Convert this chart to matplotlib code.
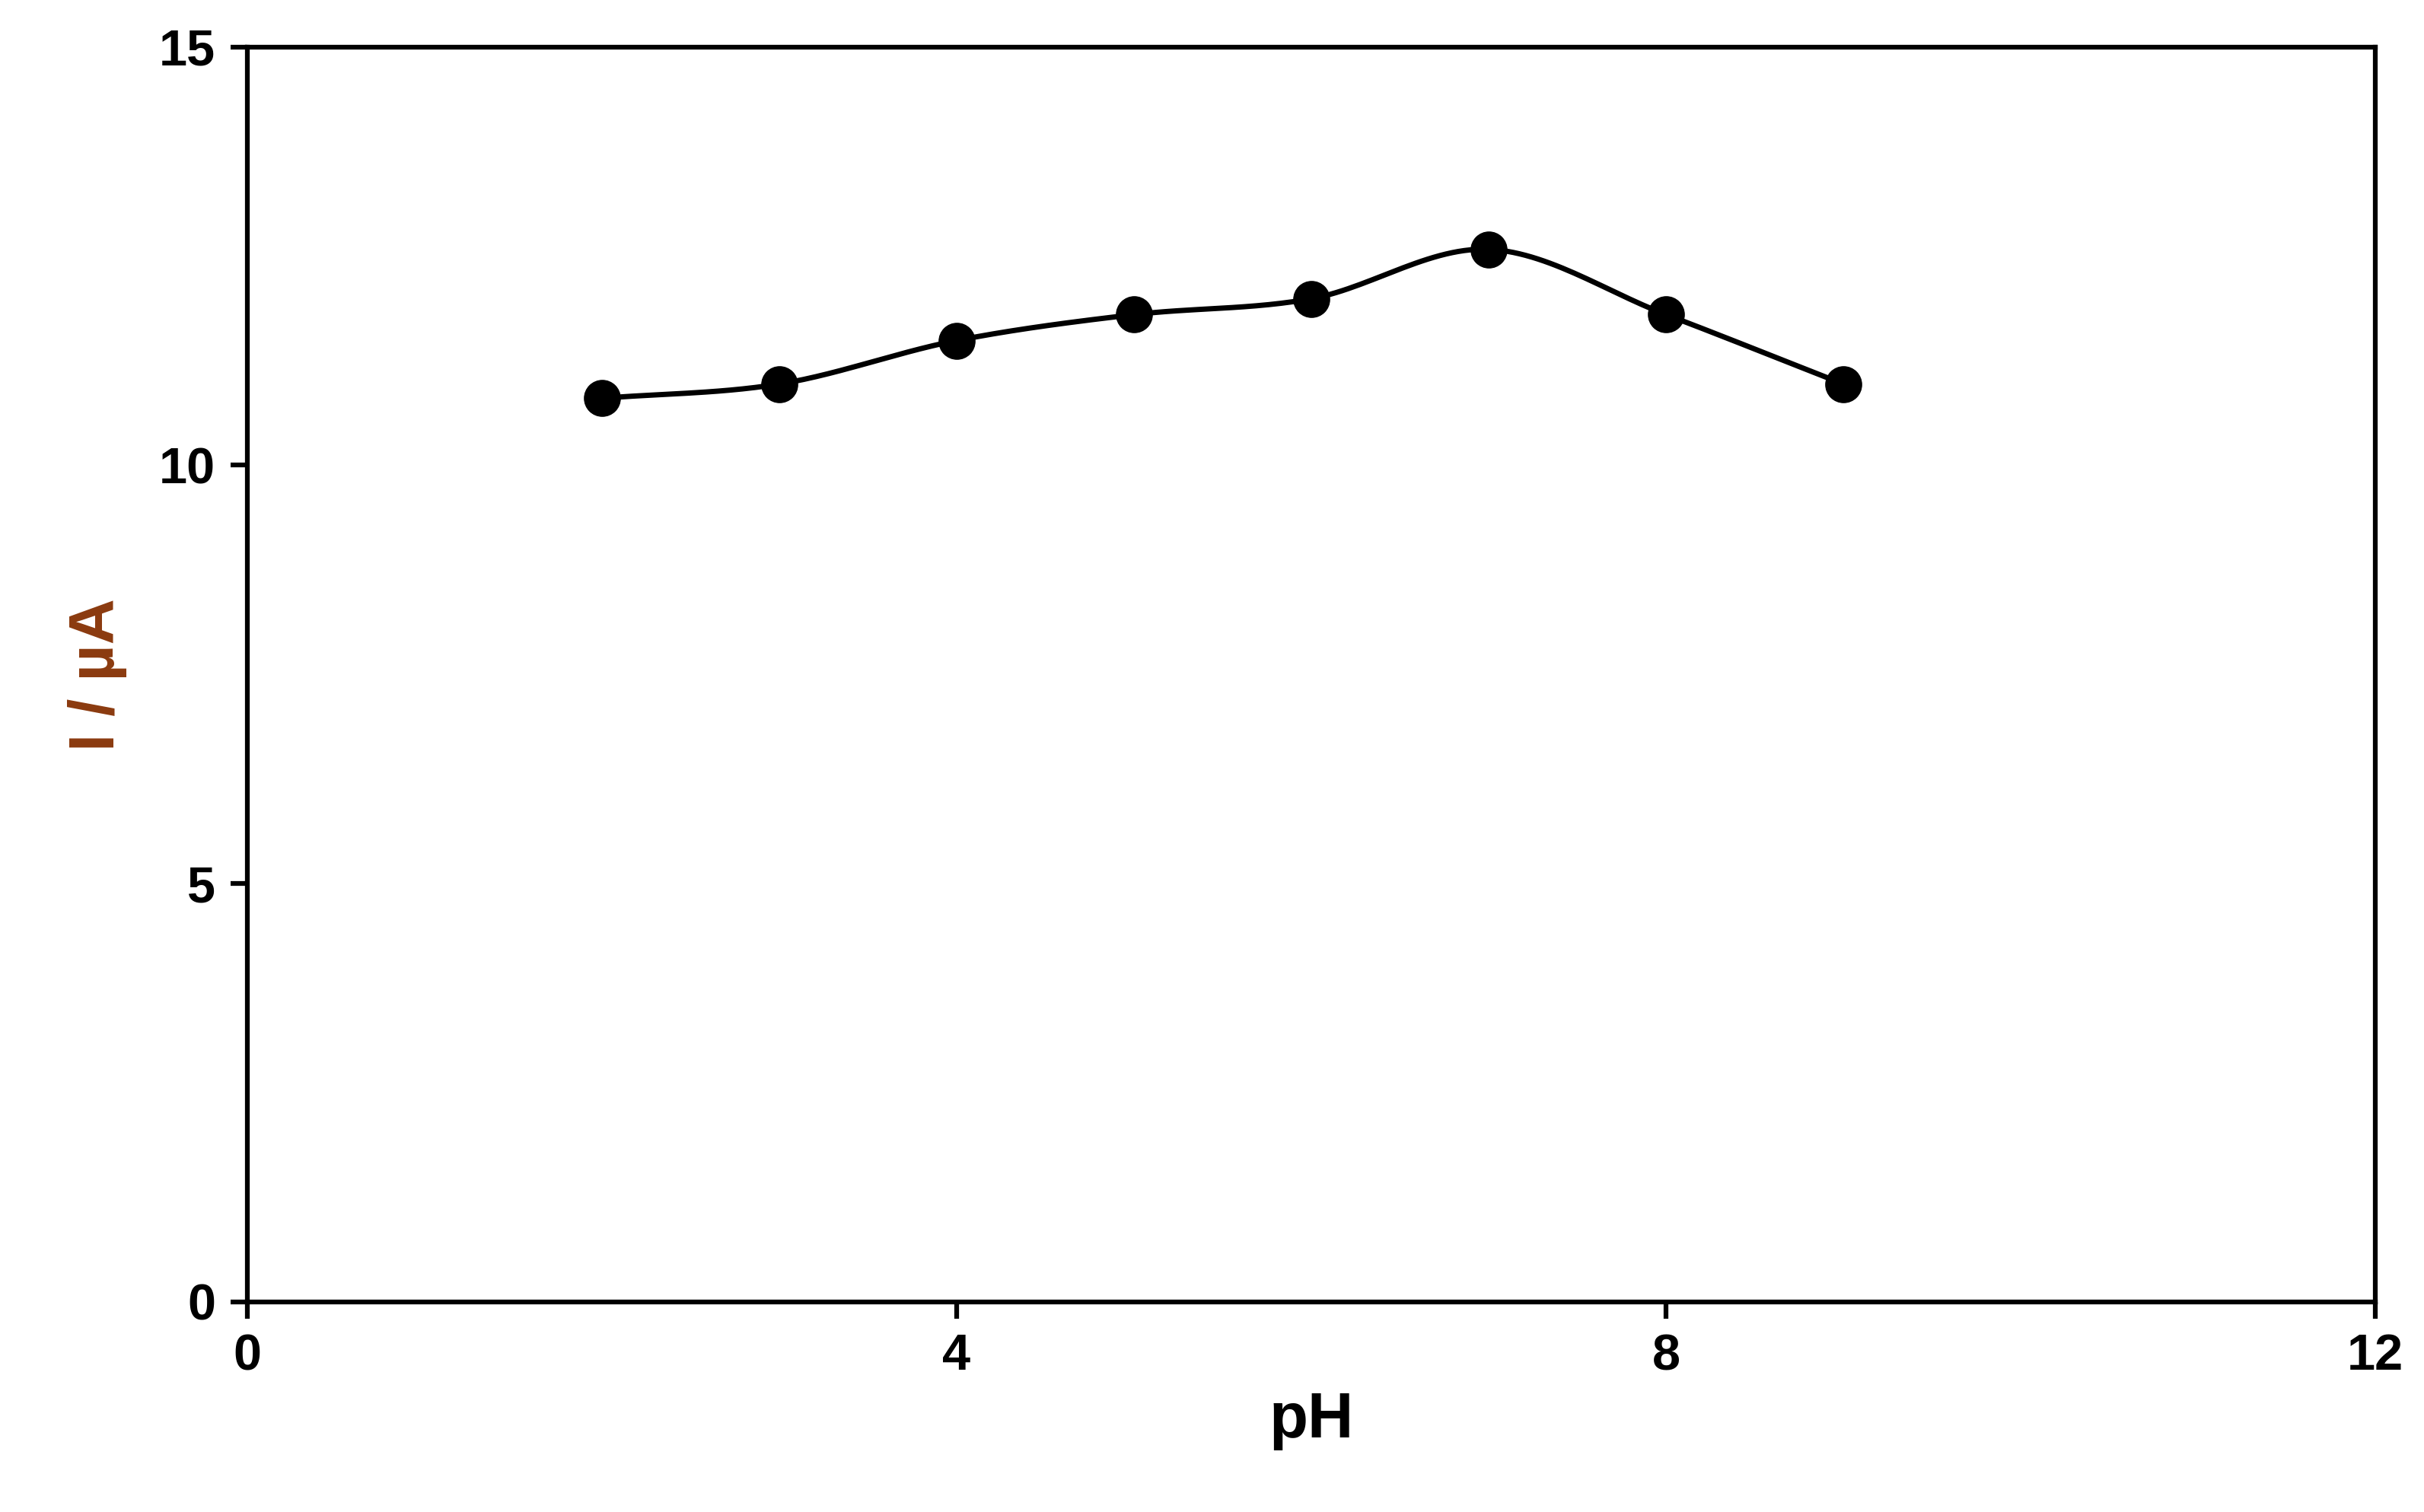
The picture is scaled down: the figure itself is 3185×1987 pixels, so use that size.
import numpy as np
import matplotlib
matplotlib.use("Agg")
import matplotlib.pyplot as plt

ph = [2, 3, 4, 5, 6, 7, 8, 9]
current = [10.8, 10.97, 11.49, 11.8, 11.99, 12.58, 11.8, 10.97]
xticks = [0, 4, 8, 12]
yticks = [0, 5, 10, 15]

plt.rcParams['font.family'] = ['Liberation Sans', 'DejaVu Sans']

def catmull(x, y, n=30):
    x = np.asarray(x, float); y = np.asarray(y, float)
    px = np.concatenate([[2*x[0]-x[1]], x, [2*x[-1]-x[-2]]])
    py = np.concatenate([[2*y[0]-y[1]], y, [2*y[-1]-y[-2]]])
    xs, ys = [], []
    t = np.linspace(0, 1, n)
    for i in range(1, len(px)-2):
        for P, out in ((px, xs), (py, ys)):
            p0, p1, p2, p3 = P[i-1], P[i], P[i+1], P[i+2]
            out.extend(0.5*((2*p1) + (-p0+p2)*t + (2*p0-5*p1+4*p2-p3)*t**2 + (-p0+3*p1-3*p2+p3)*t**3))
    return xs, ys

fig = plt.figure(figsize=(31.85, 19.87), dpi=100)
ax = fig.add_axes([0.102, 0.139, 0.878, 0.830])
sx, sy = catmull(ph, current)
ax.plot(sx, sy, color='black', lw=5)
ax.plot(ph, current, 'o', color='black', ms=34)
ax.set_xlim(0, 12); ax.set_ylim(0, 15)
ax.set_xticks(xticks); ax.set_yticks(yticks)
ax.tick_params(direction='out', length=16, width=4.5, labelsize=48, pad=14)
for lab in ax.get_xticklabels() + ax.get_yticklabels():
    lab.set_fontweight('bold')
for s in ax.spines.values():
    s.set_linewidth(4.5)
ax.set_xlabel('pH', fontsize=60, fontweight='bold', labelpad=10)
ax.set_ylabel('I / µA', fontsize=60, fontweight='bold', color='#8B3A0F', labelpad=30)
fig.savefig('out.png', dpi=100)
